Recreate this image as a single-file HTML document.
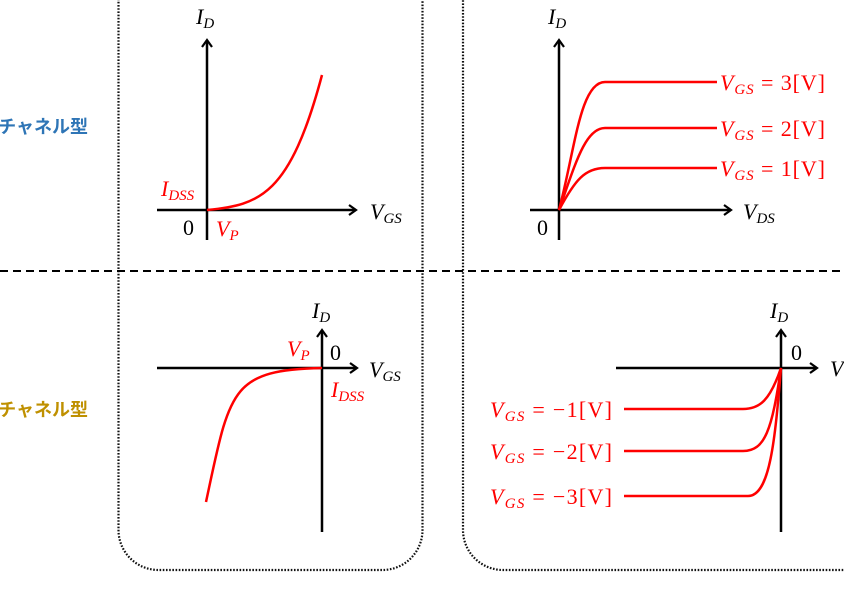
<!DOCTYPE html>
<html><head><meta charset="utf-8"><style>
html,body{margin:0;padding:0;background:#fff;width:844px;height:590px;overflow:hidden}
svg{display:block}
.m{font-family:"Liberation Serif",serif;font-style:italic}
.n{font-family:"Liberation Serif",serif}
</style></head><body>
<svg width="844" height="590" viewBox="0 0 844 590" xmlns="http://www.w3.org/2000/svg">
<defs>
<marker id="ar" viewBox="0 0 12 12" refX="10" refY="6" markerWidth="12" markerHeight="12" orient="auto" markerUnits="userSpaceOnUse">
<path d="M3,1 L10,6 L3,11" fill="none" stroke="#000" stroke-width="2.2"/>
</marker>
</defs>
<rect x="118.5" y="-40" width="304" height="610" rx="40" fill="none" stroke="#111" stroke-width="2.2" stroke-dasharray="1.6,1.6"/>
<rect x="463" y="-40" width="420" height="610" rx="40" fill="none" stroke="#111" stroke-width="2.2" stroke-dasharray="1.6,1.6"/>
<line x1="0" y1="271" x2="844" y2="271" stroke="#000" stroke-width="2" stroke-dasharray="8,5"/>
<text x="88" y="133" text-anchor="end" font-family="'Liberation Sans','Noto Sans CJK JP',sans-serif" font-weight="bold" font-size="18" fill="#2e75b6">Nチャネル型</text>
<text x="88" y="416" text-anchor="end" font-family="'Liberation Sans','Noto Sans CJK JP',sans-serif" font-weight="bold" font-size="18" fill="#bf9000">Pチャネル型</text>

<g stroke="#000" stroke-width="2.5" fill="none">
<line x1="207" y1="240" x2="207" y2="40" marker-end="url(#ar)"/>
<line x1="157" y1="210" x2="356" y2="210" marker-end="url(#ar)"/>
<line x1="559" y1="240" x2="559" y2="40" marker-end="url(#ar)"/>
<line x1="530" y1="210" x2="731" y2="210" marker-end="url(#ar)"/>
<line x1="322" y1="532" x2="322" y2="330" marker-end="url(#ar)"/>
<line x1="157" y1="368" x2="357" y2="368" marker-end="url(#ar)"/>
<line x1="781" y1="532" x2="781" y2="330" marker-end="url(#ar)"/>
<line x1="616" y1="368" x2="817" y2="368" marker-end="url(#ar)"/>
</g>

<g stroke="#f00" stroke-width="2.5" fill="none">
<path d="M207,210 C260,205 290,195 322,75"/>
<path d="M559,210 C575,150 580,82 605,82 L717,82"/>
<path d="M559,210 C575,165 585,128 605,128 L717,128"/>
<path d="M559,210 C575,180 585,168 605,168 L717,168"/>
<path d="M322,368 C230,370 230,390 206,502"/>
<path d="M624,409 L743,409 C760,409 770,400 781,368"/>
<path d="M624,451 L743,451 C765,451 772,430 781,368"/>
<path d="M624,496 L748,496 C770,496 775,440 781,368"/>
</g>

<g font-size="22" fill="#000">
<text class="m" x="196" y="24">I<tspan font-size="15" dy="4">D</tspan></text>
<text class="m" x="370" y="219">V<tspan font-size="15" dy="4">GS</tspan></text>
<text class="n" x="183" y="235">0</text>
<text class="m" x="548" y="24">I<tspan font-size="15" dy="4">D</tspan></text>
<text class="m" x="743" y="219">V<tspan font-size="15" dy="4">DS</tspan></text>
<text class="n" x="537" y="235">0</text>
<text class="m" x="312" y="318">I<tspan font-size="15" dy="4">D</tspan></text>
<text class="n" x="330" y="360">0</text>
<text class="m" x="369" y="377">V<tspan font-size="15" dy="4">GS</tspan></text>
<text class="m" x="770" y="318">I<tspan font-size="15" dy="4">D</tspan></text>
<text class="n" x="791" y="360">0</text>
<text class="m" x="830" y="376">V</text>
</g>
<g font-size="22" fill="#f00">
<text class="m" x="161" y="196">I<tspan font-size="15" dy="4">DSS</tspan></text>
<text class="m" x="216" y="236">V<tspan font-size="15" dy="4">P</tspan></text>
<text class="m" x="287" y="356">V<tspan font-size="15" dy="4">P</tspan></text>
<text class="m" x="331" y="397">I<tspan font-size="15" dy="4">DSS</tspan></text>
<text x="720" y="90" textLength="105" lengthAdjust="spacing"><tspan class="m">V</tspan><tspan class="m" font-size="15" dy="4">GS</tspan><tspan class="n" dy="-4"> = 3[V]</tspan></text>
<text x="720" y="136" textLength="105" lengthAdjust="spacing"><tspan class="m">V</tspan><tspan class="m" font-size="15" dy="4">GS</tspan><tspan class="n" dy="-4"> = 2[V]</tspan></text>
<text x="720" y="176" textLength="105" lengthAdjust="spacing"><tspan class="m">V</tspan><tspan class="m" font-size="15" dy="4">GS</tspan><tspan class="n" dy="-4"> = 1[V]</tspan></text>
<text x="490" y="417" textLength="122" lengthAdjust="spacing"><tspan class="m">V</tspan><tspan class="m" font-size="15" dy="4">GS</tspan><tspan class="n" dy="-4"> = −1[V]</tspan></text>
<text x="490" y="459" textLength="122" lengthAdjust="spacing"><tspan class="m">V</tspan><tspan class="m" font-size="15" dy="4">GS</tspan><tspan class="n" dy="-4"> = −2[V]</tspan></text>
<text x="490" y="504" textLength="122" lengthAdjust="spacing"><tspan class="m">V</tspan><tspan class="m" font-size="15" dy="4">GS</tspan><tspan class="n" dy="-4"> = −3[V]</tspan></text>
</g>
</svg>
</body></html>
